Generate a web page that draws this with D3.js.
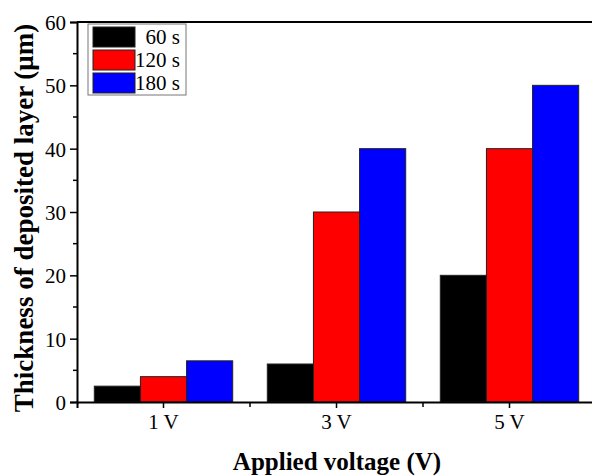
<!DOCTYPE html>
<html>
<head>
<meta charset="utf-8">
<script src="https://cdn.jsdelivr.net/npm/d3@7"></script>
<style>
  body { margin: 0; background: #fff; }
  svg { display: block; font-family: "Liberation Serif", "Times New Roman", serif; }
</style>
</head>
<body>
<div class="chart"></div>
<script>
var voltages = ['1 V', '3 V', '5 V']
var times = ['60 s', '120 s', '180 s']
var colors = ['#000000', '#ff0000', '#0000ff']
// thickness (um) per voltage, one array per deposition time
var t60 = [2.5, 6, 20]
var t120 = [4, 30, 40]
var t180 = [6.5, 40, 50]
var yTicks = [0, 10, 20, 30, 40, 50, 60]

var series = [t60, t120, t180]

var width = 592, height = 476
var margin = {top: 22, left: 77, bottom: 74}
var plotW = 519   // 3 categories, the right edge falls off the picture
var plotH = height - margin.top - margin.bottom
var serif = '"Liberation Serif", "Times New Roman", serif'

var svg = d3.select('.chart').append('svg')
    .attr('width', width)
    .attr('height', height)

var g = svg.append('g')
    .attr('transform', 'translate(' + margin.left + ',' + margin.top + ')')

var x = d3.scaleBand()
    .domain(voltages)
    .range([0, plotW])
    .paddingInner(0.2)
    .paddingOuter(0.1)

var x1 = d3.scaleBand()
    .domain(times)
    .range([0, x.bandwidth()])

var y = d3.scaleLinear()
    .domain([0, 60])
    .range([plotH, 0])

// bars
var groups = g.selectAll('.grp')
    .data(voltages)
    .enter()
    .append('g')
    .attr('class', 'grp')
    .attr('transform', function(d) { return 'translate(' + x(d) + ',0)' })

groups.selectAll('rect')
    .data(function(d, i) {
        return times.map(function(t, j) { return {t: t, v: series[j][i], c: colors[j]} })
    })
    .enter()
    .append('rect')
    .attr('x', function(d) { return x1(d.t) })
    .attr('width', x1.bandwidth())
    .attr('y', function(d) { return y(d.v) })
    .attr('height', function(d) { return plotH - y(d.v) })
    .style('fill', function(d) { return d.c })
    .style('stroke', '#222')
    .style('stroke-width', 1)

// top frame line
g.append('line')
    .attr('x1', 0).attr('x2', width)
    .attr('y1', 0).attr('y2', 0)
    .style('stroke', '#000')
    .style('stroke-width', 2)

// y axis
var yAxis = d3.axisLeft(y).tickValues(yTicks).tickSize(7).tickPadding(4)
var ya = g.append('g').attr('class', 'axis').call(yAxis)
    .attr('font-family', serif)
ya.selectAll('text').style('font-size', '21px').attr('fill', '#000').attr('dy', '0.35em')

// minor y ticks
g.selectAll('.yminor')
    .data([5, 15, 25, 35, 45, 55])
    .enter()
    .append('line')
    .attr('x1', -4).attr('x2', 0)
    .attr('y1', function(d) { return y(d) })
    .attr('y2', function(d) { return y(d) })
    .style('stroke', '#000')
    .style('stroke-width', 1.5)

// x axis
var xAxis = d3.axisBottom(x).tickSize(6).tickPadding(6)
var xa = g.append('g').attr('class', 'axis')
    .attr('transform', 'translate(0,' + plotH + ')')
    .call(xAxis)
    .attr('font-family', serif)
xa.selectAll('text').style('font-size', '21px').attr('fill', '#000')

// minor x ticks between the groups
g.selectAll('.xminor')
    .data(voltages.slice(1))
    .enter()
    .append('line')
    .attr('x1', function(d) { return x(d) - x.step() * x.paddingInner() / 2 })
    .attr('x2', function(d) { return x(d) - x.step() * x.paddingInner() / 2 })
    .attr('y1', plotH).attr('y2', plotH + 5)
    .style('stroke', '#000')
    .style('stroke-width', 1.5)

svg.selectAll('.axis path, .axis line').style('stroke', '#000').style('stroke-width', 2)
svg.selectAll('.axis .tick line').style('stroke-width', 1.5)

// axis titles
svg.append('text')
    .attr('x', 337)
    .attr('y', 470)
    .attr('text-anchor', 'middle')
    .style('font-size', '25px')
    .style('font-weight', 'bold')
    .text('Applied voltage (V)')

svg.append('text')
    .attr('transform', 'translate(33,218) rotate(-90)')
    .attr('text-anchor', 'middle')
    .style('font-size', '27px')
    .style('font-weight', 'bold')
    .text('Thickness of deposited layer (\u03bcm)')

// legend
var legend = g.append('g').attr('transform', 'translate(11,2)')
legend.append('rect')
    .attr('width', 98).attr('height', 71)
    .style('fill', '#fff')
    .style('stroke', '#777')
    .style('stroke-width', 1)

var items = legend.selectAll('.item')
    .data(times)
    .enter()
    .append('g')
    .attr('transform', function(d, i) { return 'translate(5,' + (3 + i * 23) + ')' })

items.append('rect')
    .attr('width', 42).attr('height', 20)
    .style('fill', function(d, i) { return colors[i] })
    .style('stroke', '#222')

items.append('text')
    .attr('x', 87)
    .attr('y', 10)
    .attr('dy', '0.35em')
    .attr('text-anchor', 'end')
    .style('font-size', '21px')
    .text(function(d) { return d })
</script>
</body>
</html>
